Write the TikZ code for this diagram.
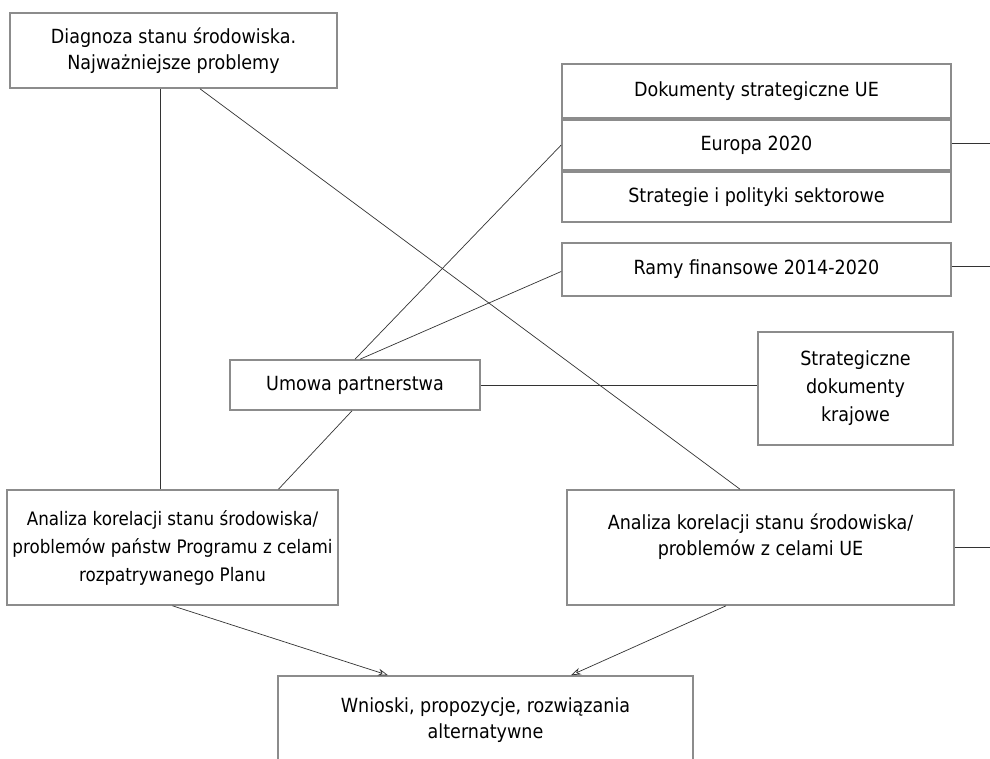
\documentclass[tikz,border=0pt]{standalone}
\usepackage{fontspec}
\setmainfont{DejaVu Sans Condensed}
\usetikzlibrary{arrows.meta}

\begin{document}
\begin{tikzpicture}[x=1pt,y=-1pt,
   box/.style={draw=black!45,line width=1.6pt,inner sep=0pt,align=center,
     font=\fontsize{19.5}{26}\selectfont},
   link/.style={draw=black!80,line width=0.7pt},
   tip/.style={-{Stealth[open,length=10pt,width=7pt]}}]
   \useasboundingbox (0,0) rectangle (990,758);
   \fill[white] (0,0) rectangle (990,758);
   % left column
   \path (173.5,50.5) node[box,minimum width=327,minimum height=75] (Diag)
   {Diagnoza stanu środowiska.\\Najważniejsze problemy};
   \path (355,385) node[box,minimum width=250,minimum height=50] (Umowa)
   {Umowa partnerstwa};
   \path (172.5,547.5) node[box,minimum width=331,minimum height=115,
     font=\fontsize{18.6}{28}\selectfont] (AnPlan)
   {Analiza korelacji stanu środowiska/\\problemów państw Programu z celami\\rozpatrywanego Planu};
   % right column
   \path (756.5,91) node[box,minimum width=389,minimum height=54] (DokUE)
   {Dokumenty strategiczne UE};
   \path (756.5,145) node[box,minimum width=389,minimum height=50] (Europa)
   {Europa 2020};
   \path (756.5,197) node[box,minimum width=389,minimum height=50] (Sektor)
   {Strategie i polityki sektorowe};
   \path (756.5,269.5) node[box,minimum width=389,minimum height=53] (Ramy)
   {Ramy finansowe 2014-2020};
   \path (855.5,388.5) node[box,minimum width=195,minimum height=113,
     font=\fontsize{19.5}{28}\selectfont] (Kraj)
   {Strategiczne\\dokumenty\\krajowe};
   \path (760.5,547.5) node[box,minimum width=387,minimum height=115] (AnUE)
   {Analiza korelacji stanu środowiska/\\problemów z celami UE\\\mbox{}};
   \path (485.5,720) node[box,minimum width=415,minimum height=88] (Wnioski)
   {Wnioski, propozycje, rozwiązania\\alternatywne};
   % stubs off the page
   \coordinate (EuropaR) at (990,143);
   \coordinate (RamyR) at (990,266);
   \coordinate (AnUER) at (990,547.5);
   % links
   \draw[link] ([xshift=-13.5]Diag.south) -- ([xshift=-12.5]AnPlan.north);
   \draw[link] ([xshift=26.5]Diag.south) -- ([xshift=-20.5]AnUE.north);
   \draw[link] (Umowa.north) -- (Europa.west);
   \draw[link] ([xshift=5]Umowa.north) -- ([yshift=-2]Ramy.west);
   \draw[link] (Umowa.east) -- (Kraj.west |- Umowa.east);
   \draw[link] ([xshift=-3]Umowa.south) -- ([xshift=106]AnPlan.north);
   \draw[link] (Europa.east |- EuropaR) -- (EuropaR);
   \draw[link] (Ramy.east |- RamyR) -- (RamyR);
   \draw[link] (AnUE.east) -- (AnUER);
   \draw[link,tip] ([xshift=0]AnPlan.south) -- ([xshift=-97.5]Wnioski.north);
   \draw[link,tip] ([xshift=-34.5]AnUE.south) -- ([xshift=85.5]Wnioski.north);
\end{tikzpicture}
\end{document}
